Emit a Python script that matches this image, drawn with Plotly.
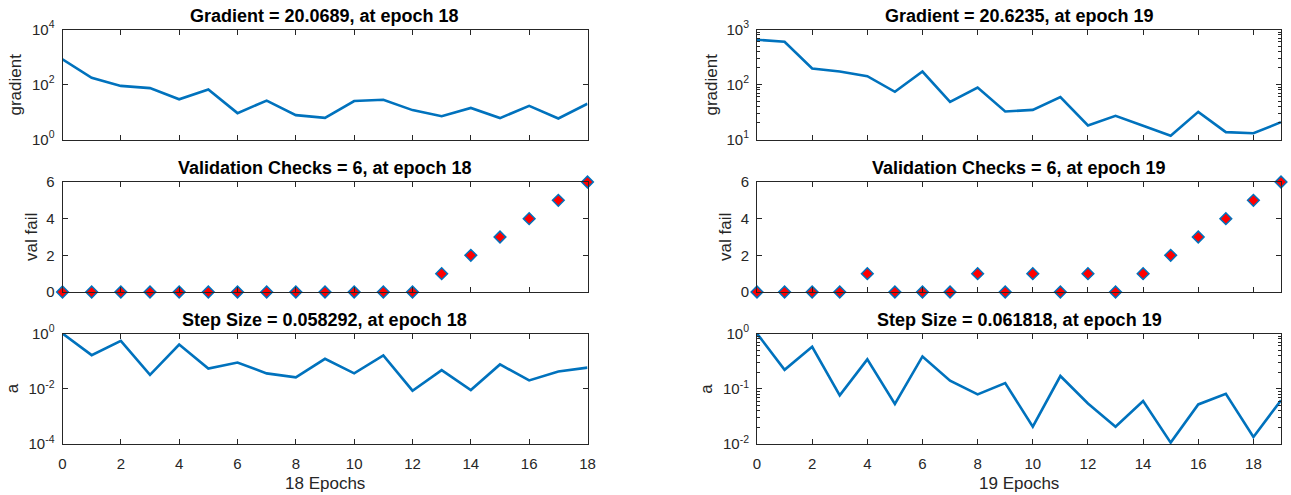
import plotly.graph_objects as go

# ---------------- data ----------------
epochs_a = list(range(0, 19))
epochs_b = list(range(0, 20))

gradient_a = [830, 175, 89, 74, 29, 66, 9.1, 26, 7.7, 6.1, 25, 28, 11.7, 7.0, 14.1, 6.0, 16.7, 5.8, 20.0689]
gradient_b = [650, 597, 195, 172, 142, 73.6, 172, 48.4, 88, 32.3, 34.6, 58.9, 18.0, 26.9, 17.8, 11.7, 31.8, 13.6, 13.0, 20.6235]

valfail_a = [0, 0, 0, 0, 0, 0, 0, 0, 0, 0, 0, 0, 0, 1, 2, 3, 4, 5, 6]
valfail_b = [0, 0, 0, 0, 1, 0, 0, 0, 1, 0, 1, 0, 1, 0, 1, 2, 3, 4, 5, 6]

step_a = [1.0, 0.165, 0.54, 0.032, 0.40, 0.054, 0.089, 0.036, 0.026, 0.121, 0.036, 0.16, 0.0085, 0.047, 0.0090, 0.076, 0.020, 0.042, 0.058292]
step_b = [1.0, 0.22, 0.574, 0.076, 0.34, 0.053, 0.384, 0.14, 0.079, 0.127, 0.0206, 0.17, 0.054, 0.0206, 0.060, 0.0106, 0.052, 0.081, 0.0134, 0.061818]

titles_a = ["Gradient = 20.0689, at epoch 18", "Validation Checks = 6, at epoch 18", "Step Size = 0.058292, at epoch 18"]
titles_b = ["Gradient = 20.6235, at epoch 19", "Validation Checks = 6, at epoch 19", "Step Size = 0.061818, at epoch 19"]
ylabels = ["gradient", "val fail", "a"]
xlabels = ["18 Epochs", "19 Epochs"]

# ---------------- style ----------------
BLUE = "#0072BD"
AX = "#262626"
FONT = "Liberation Sans, Arial, Helvetica, sans-serif"
W, H = 1291, 495

xdom_a = [62.5 / W, 587.5 / W]
xdom_b = [757 / W, 1281 / W]
ydoms = [
    [1 - 139.5 / H, 1 - 29.5 / H],
    [1 - 292 / H, 1 - 182 / H],
    [1 - 444 / H, 1 - 333.5 / H],
]

fig = go.Figure()

def ax_id(k):
    return "" if k == 1 else str(k)

def add_line(x, y, k):
    fig.add_trace(go.Scatter(x=x, y=y, mode="lines", line=dict(color=BLUE, width=2.6),
                             xaxis="x" + ax_id(k), yaxis="y" + ax_id(k),
                             cliponaxis=False, showlegend=False, hoverinfo="x+y"))

def add_markers(x, y, k):
    fig.add_trace(go.Scatter(x=x, y=y, mode="markers",
                             marker=dict(symbol="diamond", size=9, color="red",
                                         line=dict(color=BLUE, width=1.5)),
                             xaxis="x" + ax_id(k), yaxis="y" + ax_id(k),
                             cliponaxis=False, showlegend=False, hoverinfo="x+y"))

add_line(epochs_a, gradient_a, 1)
add_line(epochs_b, gradient_b, 2)
add_markers(epochs_a, valfail_a, 3)
add_markers(epochs_b, valfail_b, 4)
add_line(epochs_a, step_a, 5)
add_line(epochs_b, step_b, 6)

def xaxis(dom, n, anchor, labels):
    return dict(domain=dom, range=[0, n], tickmode="array", tickvals=list(range(0, n + 1, 2)),
                showticklabels=labels, ticks="inside", ticklen=5, tickcolor=AX, tickwidth=1,
                showline=True, linecolor=AX, linewidth=1, mirror="ticks",
                showgrid=False, zeroline=False, anchor=anchor, automargin=False,
                tickfont=dict(family=FONT, size=15, color=AX), ticklabelstandoff=6)

def yaxis(dom, anchor, **kw):
    d = dict(domain=dom, ticks="inside", ticklen=5, tickcolor=AX, tickwidth=1,
             showline=True, linecolor=AX, linewidth=1, mirror="ticks",
             showgrid=False, zeroline=False, anchor=anchor, automargin=False,
             tickfont=dict(family=FONT, size=15, color=AX), ticklabelstandoff=4)
    d.update(kw)
    return d

def minor_vals(e0, e1):
    return [m * 10.0 ** e for e in range(e0, e1) for m in range(2, 10)]

def minor_style(e0, e1):
    return dict(tickmode="array", tickvals=minor_vals(e0, e1), ticks="inside",
                ticklen=3, tickcolor=AX, tickwidth=1, showgrid=False)

def sup(p):
    return "10<sup>%d</sup>" % p

fig.update_layout(
    width=W, height=H, margin=dict(l=0, r=0, t=0, b=0, pad=0, autoexpand=False),
    paper_bgcolor="white", plot_bgcolor="white",
    font=dict(family=FONT, color=AX, size=15),
    xaxis=xaxis(xdom_a, 18, "y", False),
    xaxis2=xaxis(xdom_b, 19, "y2", False),
    xaxis3=xaxis(xdom_a, 18, "y3", False),
    xaxis4=xaxis(xdom_b, 19, "y4", False),
    xaxis5=xaxis(xdom_a, 18, "y5", True),
    xaxis6=xaxis(xdom_b, 19, "y6", True),
    yaxis=yaxis(ydoms[0], "x", type="log", range=[0, 4], tickmode="array",
                tickvals=[1, 100, 10000], ticktext=[sup(0), sup(2), sup(4)]),
    yaxis2=yaxis(ydoms[0], "x2", type="log", range=[1, 3], tickmode="array",
                 tickvals=[10, 100, 1000], ticktext=[sup(1), sup(2), sup(3)],
                 minor=minor_style(1, 3)),
    yaxis3=yaxis(ydoms[1], "x3", range=[0, 6], tickmode="array", tickvals=[0, 2, 4, 6]),
    yaxis4=yaxis(ydoms[1], "x4", range=[0, 6], tickmode="array", tickvals=[0, 2, 4, 6]),
    yaxis5=yaxis(ydoms[2], "x5", type="log", range=[-4, 0], tickmode="array",
                 tickvals=[1e-4, 1e-2, 1], ticktext=[sup(-4), sup(-2), sup(0)]),
    yaxis6=yaxis(ydoms[2], "x6", type="log", range=[-2, 0], tickmode="array",
                 tickvals=[1e-2, 1e-1, 1], ticktext=[sup(-2), sup(-1), sup(0)],
                 minor=minor_style(-2, 0)),
)

ann = []
for col, (titles, xdom) in enumerate([(titles_a, xdom_a), (titles_b, xdom_b)]):
    xc = (xdom[0] + xdom[1]) / 2
    for r in range(3):
        ann.append(dict(text="<b>%s</b>" % titles[r], x=xc, y=ydoms[r][1], xref="paper", yref="paper",
                        xanchor="center", yanchor="bottom", yshift=2, showarrow=False,
                        font=dict(family=FONT, size=18, color="black")))
    ann.append(dict(text=xlabels[col], x=xc, y=1 - 483 / H, xref="paper", yref="paper",
                    xanchor="center", yanchor="middle", showarrow=False,
                    font=dict(family=FONT, size=17, color=AX)))

ylab_x = {0: [15, 31, 12.5], 1: [711, 725, 707]}
for col in (0, 1):
    for r in range(3):
        ann.append(dict(text=ylabels[r], x=ylab_x[col][r] / W, y=(ydoms[r][0] + ydoms[r][1]) / 2,
                        xref="paper", yref="paper", xanchor="center", yanchor="middle",
                        textangle=-90, showarrow=False,
                        font=dict(family=FONT, size=17, color=AX)))
fig.update_layout(annotations=ann)

fig.write_html("out.html")
